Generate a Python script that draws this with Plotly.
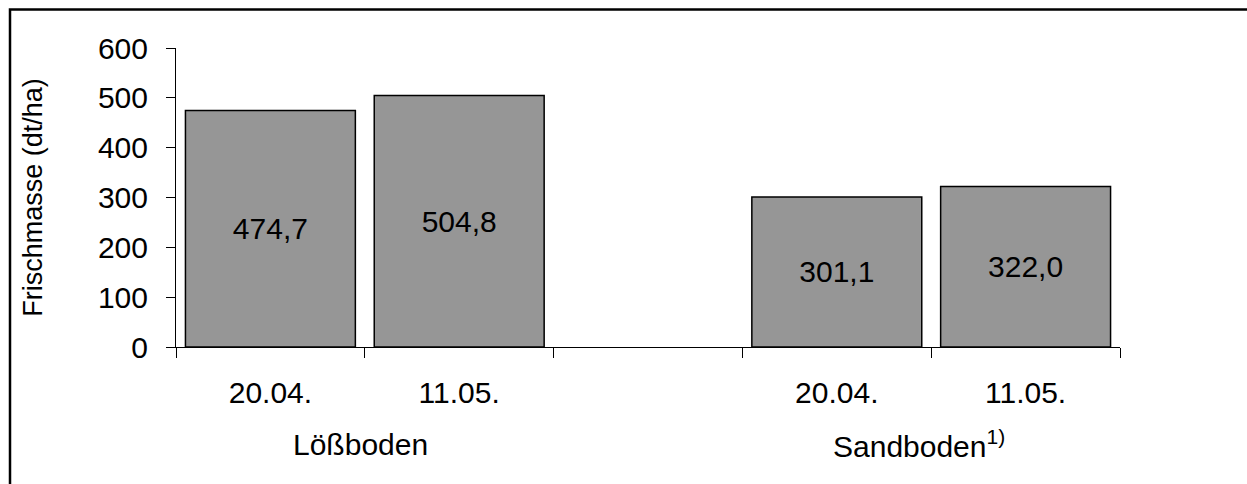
import plotly.graph_objects as go

# Data
groups = ["Lößboden", "Sandboden<sup>1)</sup>"]
dates = ["20.04.", "11.05.", "", "20.04.", "11.05."]
values = [474.7, 504.8, None, 301.1, 322.0]
y_ticks = [0, 100, 200, 300, 400, 500, 600]

W, H = 1247, 484
ML, MT = 176, 48
pw, ph = 944, 299
MR, MB = W - ML - pw, H - MT - ph

xs = list(range(len(dates)))
bx = [x for x, v in zip(xs, values) if v is not None]
bv = [v for v in values if v is not None]
labels = [f"{v:.1f}".replace(".", ",") for v in bv]

FAM = "Liberation Sans, Arial, sans-serif"
font = dict(family=FAM, size=30, color="black")

fig = go.Figure()
fig.add_trace(go.Bar(
    x=bx, y=bv, text=labels, textposition="inside", insidetextanchor="middle",
    textangle=0, textfont=font,
    marker=dict(color="#969696", line=dict(color="black", width=1.5)),
    width=0.9, showlegend=False, hoverinfo="skip",
))

fig.update_layout(
    width=W, height=H,
    margin=dict(l=ML, r=MR, t=MT, b=MB),
    paper_bgcolor="white", plot_bgcolor="white",
    font=font,
)
fig.update_xaxes(
    range=[-0.5, len(dates) - 0.5],
    tickmode="array",
    tickvals=[x for x, d in zip(xs, dates) if d],
    ticktext=[d for d in dates if d],
    ticks="", showgrid=False, zeroline=False,
    showline=True, linecolor="black", linewidth=1,
    tickfont=font,
    ticklabelstandoff=19,
    minor=dict(ticks="outside", ticklen=10, tickcolor="black", tickwidth=1,
               tick0=-0.5, dtick=1, showgrid=False),
)
fig.update_yaxes(
    range=[0, 600], tickvals=y_ticks, ticks="outside", ticklen=9,
    tickcolor="black", tickwidth=1,
    showline=True, linecolor="black", linewidth=1,
    showgrid=False, zeroline=False, tickfont=font,
    ticklabelstandoff=12,
    title=dict(text="Frischmasse (dt/ha)", font=dict(family=FAM, size=27, color="black"), standoff=47),
)

# Group labels below the date labels
group_centers = [0.5, 3.5]
group_shift = [-4, -12]
for g, cx, sh in zip(groups, group_centers, group_shift):
    fig.add_annotation(
        x=cx, xref="x", y=-(444 - (MT + ph)) / ph, yref="paper",
        text=g, showarrow=False, font=font, xanchor="center", yanchor="middle",
        xshift=sh,
    )

# Outer frame (left and top edges visible)
fig.add_shape(type="rect", xref="paper", yref="paper",
              x0=(10 - ML) / pw, x1=(W + 20 - ML) / pw,
              y0=-(H + 20 - MT - ph) / ph, y1=(MT + ph - 9.5) / ph,
              line=dict(color="black", width=2.5), fillcolor="rgba(0,0,0,0)", layer="above")

fig.write_html(
    "out.html",
    config={"displayModeBar": False, "staticPlot": True},
    post_script="document.body.style.margin='0';document.body.style.overflow='hidden';",
)
